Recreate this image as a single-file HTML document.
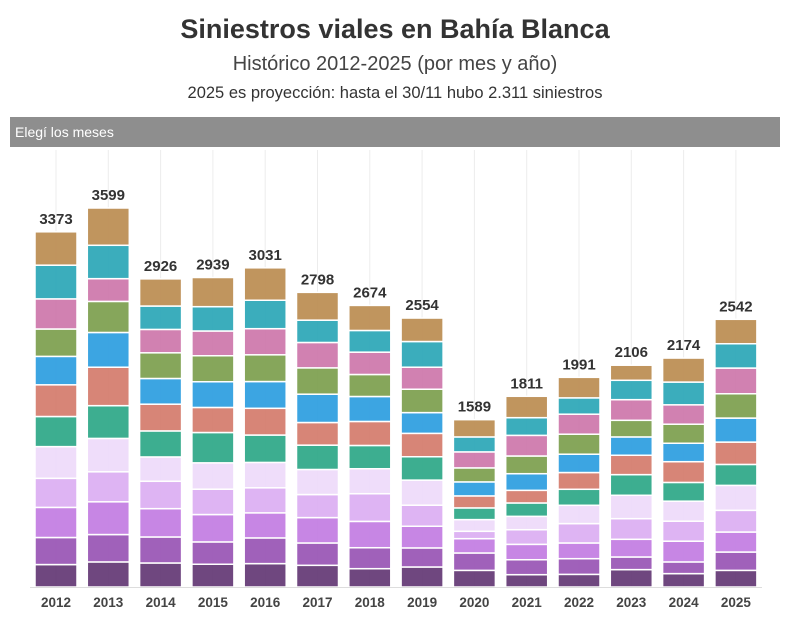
<!DOCTYPE html>
<html><head><meta charset="utf-8"><style>
body{margin:0;background:#fff;font-family:"Liberation Sans",sans-serif;}
</style></head><body>
<svg width="790" height="618" xmlns="http://www.w3.org/2000/svg">
<text x="395" y="38" text-anchor="middle" font-size="27" font-weight="bold" fill="#333">Siniestros viales en Bahía Blanca</text>
<text x="395" y="70" text-anchor="middle" font-size="20" fill="#444">Histórico 2012-2025 (por mes y año)</text>
<text x="395" y="98" text-anchor="middle" font-size="16.5" fill="#333">2025 es proyección: hasta el 30/11 hubo 2.311 siniestros</text>
<rect x="10" y="117" width="770" height="30" fill="#8e8e8e"/>
<text x="15" y="137" font-size="14" fill="#fff">Elegí los meses</text>
<g id="grid"></g><g id="bars"></g><g id="labels"></g>
<line x1="30" y1="587.5" x2="762" y2="587.5" stroke="#ddd"/>
</svg>
<script>
const years=["2012","2013","2014","2015","2016","2017","2018","2019","2020","2021","2022","2023","2024","2025"];
const jan=[213,238,228,216,222,206,174,190,158,117,120,165,127,158];
const feb=[257,260,247,212,244,212,199,181,165,142,149,120,111,174];
const mar=[286,311,269,260,238,241,250,206,136,146,149,168,197,190];
const apr=[276,285,260,241,238,219,263,200,70,139,184,196,190,206];
const may=[301,317,231,250,241,238,237,238,111,127,174,222,190,237];
const jun=[286,311,247,288,260,231,221,222,111,127,152,196,178,199];
const jul=[301,365,254,238,254,215,228,222,114,120,159,184,197,212];
const aug=[270,330,244,244,254,269,237,197,133,158,174,174,175,228];
const sep=[260,295,244,247,254,250,209,222,133,168,190,158,181,231];
const oct=[286,216,222,235,248,241,212,209,152,196,190,196,184,244];
const nov=[320,317,222,231,270,212,206,244,142,168,155,184,216,231];
const dec=[317,354,258,277,308,264,238,223,164,203,195,143,228,232];
const months=["enero","febrero","marzo","abril","mayo","junio","julio","agosto","septiembre","octubre","noviembre","diciembre"];
const series=[jan,feb,mar,apr,may,jun,jul,aug,sep,oct,nov,dec];
const colors=["#673d78","#9b59b6","#c47fe3","#dcb0f2","#eedbfa","#33aa8a","#d57e70","#31a0e0","#80a152","#cf7aad","#30a9b8","#bd8f55"];
const NS="http://www.w3.org/2000/svg";
const base=587, k=379/3599;
const xs=i=>56+i*52.3;
const ys=v=>base-v*k;
const bw=42;
const G=document.getElementById("grid"),B=document.getElementById("bars"),L=document.getElementById("labels");
function mk(t,a){const e=document.createElementNS(NS,t);for(const n in a)e.setAttribute(n,a[n]);return e;}
years.forEach((y,i)=>{
  const gl=mk("line",{x1:xs(i),x2:xs(i),y1:150,y2:base,stroke:"#ececec"});
  
  
  G.appendChild(gl);
  let cum=0;
  series.forEach((s,m)=>{
    const v=s[i];
    const r=mk("rect",{x:xs(i)-bw/2,y:ys(cum+v),width:bw,height:v*k,fill:colors[m],stroke:"#fff","stroke-width":1.5,"fill-opacity":0.95});
    
    
    B.appendChild(r);
    cum+=v;
  });
  const tl=mk("text",{x:xs(i),y:ys(cum)-8,"text-anchor":"middle","font-size":15,"font-weight":"bold",fill:"#333"});
  tl.textContent=cum;
  
  
  L.appendChild(tl);
  const xl=mk("text",{x:xs(i),y:607,"text-anchor":"middle","font-size":13.5,"font-weight":"bold",fill:"#444"});
  xl.textContent=y;
  
  
  L.appendChild(xl);
});
</script>
</body></html>
